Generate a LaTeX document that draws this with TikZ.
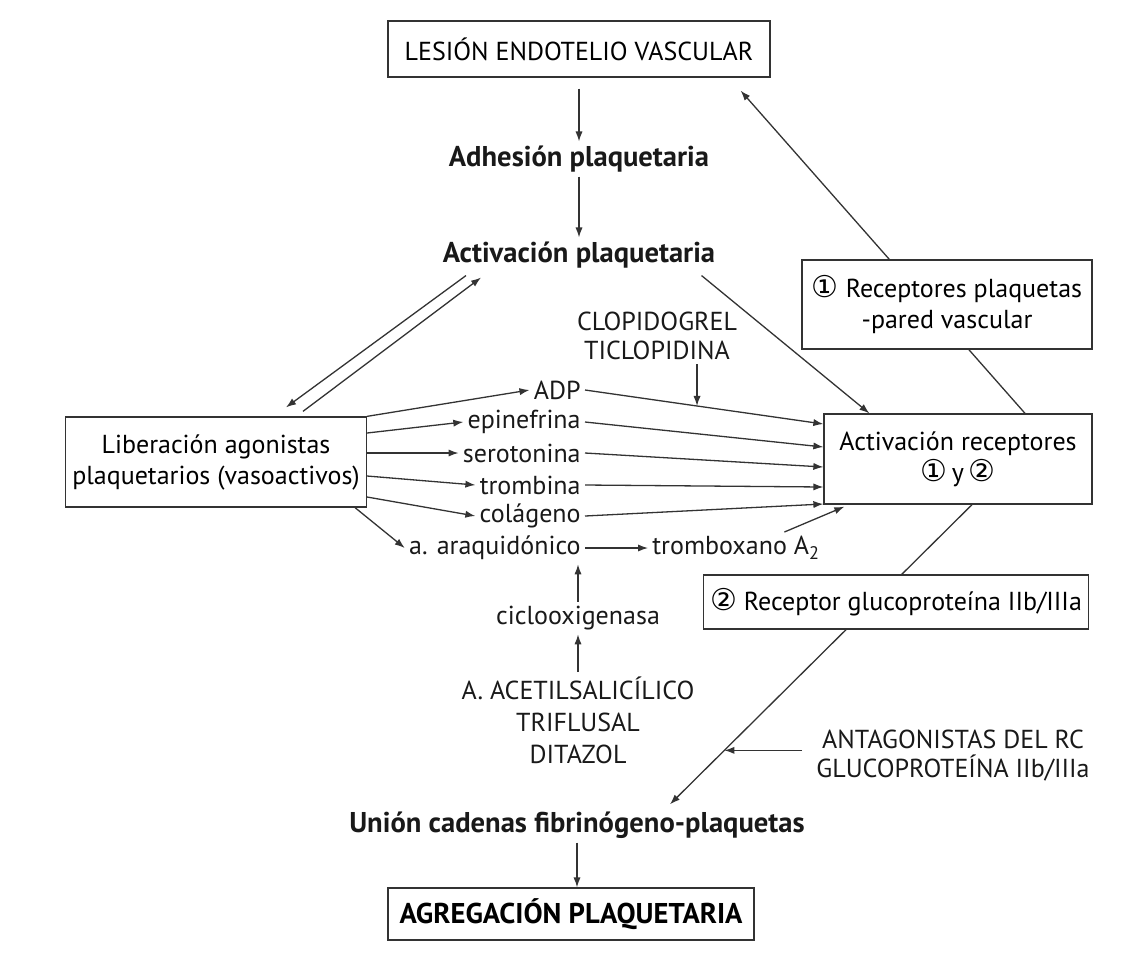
\documentclass[tikz,border=0pt]{standalone}
\usepackage{fontspec}
\setmainfont{PT Sans}
\newfontfamily\symfont{DejaVu Sans}
\usetikzlibrary{arrows.meta, positioning, calc, backgrounds}
\newcommand{\cuno}{{\symfont\fontsize{15}{15}\selectfont\char"2460}}
\newcommand{\cdos}{{\symfont\fontsize{15}{15}\selectfont\char"2461}}
\tikzset{
  box/.style={
    rectangle, draw=black!80, fill=white, line width=0.65pt,
    align=center, font=\fontsize{13}{15.5}\selectfont
  },
  lbl/.style={align=center, inner sep=2pt, text=black!90, font=\fontsize{13}{14.5}\selectfont},
  blbl/.style={lbl, font=\fontsize{14.3}{15}\selectfont\bfseries},
  arr/.style={line width=0.65pt, draw=black!80, -{Latex[length=5pt,width=3.6pt]}}
}

\begin{document}
\begin{tikzpicture}[x=0.5pt, y=-0.5pt]
  \useasboundingbox (0,0) rectangle (1133,954);

  \node[box, minimum width=191pt, minimum height=28pt] (lesion) at (579,49) {LESIÓN ENDOTELIO VASCULAR};
  \node[blbl] (adhes)   at (579,159) {Adhesión plaquetaria};
  \node[blbl] (actplaq) at (579,255) {Activación plaquetaria};
  \node[box, minimum width=149pt, minimum height=45pt] (lib) at (216,462)
    {Liberación agonistas\\plaquetarios (vasoactivos)};
  \node[lbl, anchor=east] (adp)  at (585,390) {ADP};
  \node[lbl, anchor=east] (epi)  at (585,422) {epinefrina};
  \node[lbl, anchor=east] (sero) at (585,453) {serotonina};
  \node[lbl, anchor=east] (trom) at (585,485) {trombina};
  \node[lbl, anchor=east] (col)  at (585,516) {colágeno};
  \node[lbl, anchor=east] (ara)  at (585,548) {a. araquidónico};
  \node[lbl, anchor=west] (trx)  at (648,548) {tromboxano A\textsubscript{2}};
  \node[lbl] (clop) at (657,336) {CLOPIDOGREL\\TICLOPIDINA};
  \node[lbl] (cox)  at (578,618) {ciclooxigenasa};
  \node[lbl, font=\fontsize{13}{16}\selectfont] (asa) at (578,720) {A. ACETILSALICÍLICO\\TRIFLUSAL\\DITAZOL};
  \node[box, minimum width=145pt, minimum height=44.5pt] (rec1) at (947,304.5)
    {\cuno\ Receptores plaquetas\\-pared vascular};
  \node[box, minimum width=134pt, minimum height=45pt] (actrec) at (958,459)
    {Activación receptores\\\cuno\,y\,\cdos};
  \node[box, minimum width=192pt, minimum height=27pt] (rec2) at (896,602)
    {\cdos\ Receptor glucoproteína IIb/IIIa};
  \node[lbl] (antag) at (953,756) {ANTAGONISTAS DEL RC\\GLUCOPROTEÍNA IIb/IIIa};
  \node[blbl] (union) at (577,825) {Unión cadenas fibrinógeno-plaquetas};
  \node[box, font=\fontsize{14.3}{15}\selectfont\bfseries, minimum width=183pt, minimum height=26pt]
    (agreg) at (571,914) {AGREGACIÓN PLAQUETARIA};

  \draw[arr] ($(lesion.south)+(0,11)$) -- (adhes);
  \draw[arr] (adhes) -- (actplaq);
  \draw[arr] ($(actplaq.south)+(-113,3)$) -- ($(lib.north)+(70,-9)$);
  \draw[arr] ($(lib.north)+(87,-5)$) -- ($(actplaq.south)+(-98,5)$);
  \draw[arr] ($(actplaq.south east)+(-18,3)$) -- ($(actrec.north west)+(46,0)$);

  \draw[arr] (lib.north east) -- (adp.west);
  \draw[arr] (lib.east |- 0,433) -- (epi.west);
  \draw[arr] (lib.east |- 0,453) -- (sero.west);
  \draw[arr] (lib.east |- 0,476) -- (trom.west);
  \draw[arr] (lib.east |- 0,497) -- (col.west);
  \draw[arr] ($(lib.south east)+(-12,0)$) -- (ara.west);

  \draw[arr] (adp.east)  -- (actrec.west |- 0,424);
  \draw[arr] (epi.east)  -- (actrec.west |- 0,447);
  \draw[arr] (sero.east) -- (actrec.west |- 0,467);
  \draw[arr] (trom.east) -- (actrec.west |- 0,487);
  \draw[arr] (col.east)  -- (actrec.west |- 0,504);
  \draw[arr] (ara) -- (trx);
  \draw[arr] ($(trx.north east)+(-40,0)$) -- ($(actrec.south west)+(21,2)$);

  \coordinate (clopin) at ($(adp.east)!0.47!(actrec.west |- 0,424)$);
  \draw[arr] (clop.south -| clopin) -- (clopin);
  \draw[arr] (cox.north) -- (cox.north |- ara.south);
  \draw[arr] (asa) -- (cox);

  \begin{scope}[on background layer]
    \draw[arr] ($(actrec.north)+(67,0)$) -- ($(lesion.south east)+(-30,13)$);
    \draw[arr] ($(actrec.south)+(14,0)$) coordinate (ra) -- ($(union.north)+(93,-3)$) coordinate (rb);
  \end{scope}

  \coordinate (antin)  at ($(ra)!0.82!(rb)$);
  \coordinate (antout) at ($(antag.west)+(-10,0)$);
  \draw[arr] (antout |- antin) -- (antin);
  \draw[arr] (union.south) -- (union.south |- agreg.north);
\end{tikzpicture}
\end{document}
